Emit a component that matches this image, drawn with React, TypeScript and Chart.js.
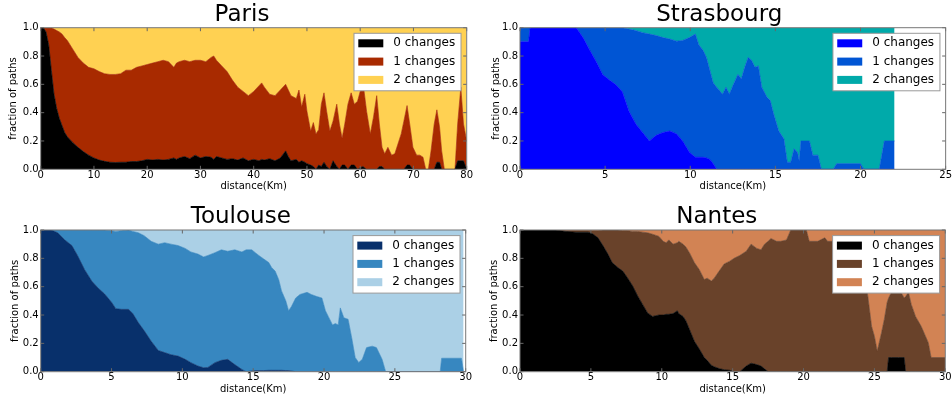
import React, { useEffect, useRef } from "react";
import { Chart, registerables } from "chart.js";

Chart.register(...registerables);

const FONT = "'DejaVu Sans', 'Liberation Sans', sans-serif";
Chart.defaults.font.family = FONT;
Chart.defaults.color = "#000";

const SERIES_LABELS = ["0 changes", "1 changes", "2 changes"];
const X_LABEL = "distance(Km)";
const Y_LABEL = "fraction of paths";

// ---------------- Paris ----------------
const parisX = [0, 0.5, 1, 1.5, 2, 2.5, 3, 3.5, 4, 4.5, 5, 6, 7, 8, 9, 10, 11, 12, 13, 14, 15, 16, 17, 18, 19, 20, 21, 22, 23, 24, 25, 25.5, 26, 27, 28, 29, 30, 31, 32, 32.5, 33, 34, 35, 36, 37, 38, 39, 40, 41, 41.5, 42, 43, 44, 45, 46, 46.5, 47, 48, 48.5, 49, 49.6, 50, 50.7, 51.2, 51.7, 52.2, 52.7, 53.2, 53.7, 54.3, 54.9, 55.6, 56.1, 56.6, 57.1, 57.7, 58.3, 58.9, 59.5, 60.5, 61.2, 61.9, 62.5, 63.1, 63.6, 64.1, 64.6, 65.2, 65.9, 66.5, 67.1, 67.7, 68.2, 68.8, 69.3, 69.9, 70.6, 71.2, 71.8, 72.3, 72.8, 73.3, 73.9, 74.4, 74.9, 75.3, 75.8, 77.8, 78.3, 78.9, 79.4, 80];
const parisZero = [1, 1, 0.97, 0.88, 0.7, 0.53, 0.43, 0.36, 0.31, 0.26, 0.23, 0.19, 0.155, 0.125, 0.1, 0.08, 0.065, 0.056, 0.05, 0.048, 0.05, 0.05, 0.055, 0.055, 0.06, 0.07, 0.065, 0.07, 0.065, 0.07, 0.08, 0.07, 0.08, 0.09, 0.075, 0.1, 0.08, 0.09, 0.085, 0.07, 0.09, 0.08, 0.07, 0.075, 0.065, 0.08, 0.06, 0.07, 0.06, 0.07, 0.065, 0.075, 0.06, 0.08, 0.13, 0.09, 0.06, 0.07, 0.05, 0.06, 0.05, 0.04, 0.03, 0.02, 0, 0.03, 0.02, 0.05, 0.02, 0, 0.06, 0.02, 0, 0.03, 0.03, 0, 0.03, 0.03, 0, 0.02, 0, 0, 0, 0, 0.02, 0.02, 0, 0, 0, 0, 0, 0, 0, 0.03, 0.03, 0, 0, 0, 0, 0, 0, 0, 0, 0.05, 0.05, 0, 0, 0, 0.06, 0.06, 0.06, 0];
const parisOne = [0, 0, 0.03, 0.12, 0.3, 0.46, 0.55, 0.61, 0.645, 0.67, 0.68, 0.66, 0.635, 0.625, 0.62, 0.63, 0.625, 0.619, 0.62, 0.622, 0.625, 0.65, 0.645, 0.665, 0.67, 0.67, 0.685, 0.69, 0.705, 0.69, 0.64, 0.68, 0.68, 0.68, 0.685, 0.67, 0.69, 0.67, 0.705, 0.73, 0.68, 0.65, 0.62, 0.555, 0.515, 0.47, 0.46, 0.48, 0.53, 0.54, 0.515, 0.455, 0.46, 0.48, 0.47, 0.47, 0.46, 0.43, 0.51, 0.38, 0.48, 0.37, 0.24, 0.31, 0.25, 0.25, 0.44, 0.49, 0.39, 0.27, 0.28, 0.44, 0.32, 0.19, 0.29, 0.46, 0.51, 0.43, 0.48, 0.6, 0.41, 0.25, 0.37, 0.52, 0.3, 0.135, 0.11, 0.155, 0.1, 0.11, 0.18, 0.25, 0.34, 0.42, 0.29, 0.155, 0.1, 0.1, 0.085, 0, 0, 0.13, 0.32, 0.37, 0.25, 0.13, 0, 0, 0.26, 0.52, 0.26, 0.2];
const parisTwo = [0, 0, 0, 0, 0, 0.01, 0.02, 0.03, 0.045, 0.07, 0.09, 0.15, 0.21, 0.25, 0.28, 0.29, 0.31, 0.325, 0.33, 0.33, 0.325, 0.3, 0.3, 0.28, 0.27, 0.26, 0.25, 0.24, 0.23, 0.24, 0.28, 0.25, 0.24, 0.23, 0.24, 0.23, 0.23, 0.24, 0.21, 0.2, 0.23, 0.27, 0.31, 0.37, 0.42, 0.45, 0.48, 0.45, 0.41, 0.39, 0.42, 0.47, 0.48, 0.44, 0.4, 0.44, 0.48, 0.5, 0.44, 0.56, 0.47, 0.59, 0.73, 0.67, 0.75, 0.72, 0.54, 0.46, 0.59, 0.73, 0.66, 0.54, 0.68, 0.78, 0.68, 0.54, 0.46, 0.54, 0.52, 0.38, 0.59, 0.75, 0.63, 0.48, 0.68, 0.845, 0.89, 0.845, 0.9, 0.89, 0.82, 0.75, 0.66, 0.55, 0.68, 0.845, 0.9, 0.9, 0.915, 1, 1, 0.87, 0.68, 0.58, 0.7, 0.87, 1, 1, 0.68, 0.42, 0.68, 0.8];

// ---------------- Strasbourg ----------------
const strasX = [0, 0.5, 0.6, 3.3, 3.7, 4.1, 4.5, 4.85, 5.25, 5.6, 6.0, 6.4, 6.8, 7.2, 7.6, 8.0, 8.4, 8.8, 9.2, 9.55, 9.95, 10.3, 10.5, 10.75, 10.95, 11.15, 11.35, 11.55, 11.9, 12.1, 12.3, 12.5, 12.8, 13.0, 13.2, 13.4, 13.6, 13.8, 14.0, 14.2, 14.5, 14.7, 14.9, 15.2, 15.5, 15.7, 15.9, 16.1, 16.3, 16.4, 16.5, 17.0, 17.2, 17.5, 17.7, 18.4, 18.6, 20.0, 20.2, 21.1, 21.4, 22.0];
const strasZero = [0.9, 0.9, 1, 1, 0.93, 0.84, 0.755, 0.67, 0.63, 0.6, 0.55, 0.41, 0.32, 0.26, 0.2, 0.24, 0.26, 0.27, 0.25, 0.2, 0.12, 0.085, 0.085, 0.085, 0.08, 0.07, 0.04, 0, 0, 0, 0, 0, 0, 0, 0, 0, 0, 0, 0, 0, 0, 0, 0, 0, 0, 0, 0, 0, 0, 0, 0, 0, 0, 0, 0, 0, 0, 0, 0, 0, 0, 0];
const strasOne = [0.1, 0.1, 0, 0, 0.07, 0.16, 0.245, 0.33, 0.37, 0.4, 0.45, 0.58, 0.66, 0.705, 0.755, 0.705, 0.67, 0.65, 0.655, 0.71, 0.81, 0.87, 0.795, 0.755, 0.71, 0.63, 0.57, 0.58, 0.53, 0.58, 0.53, 0.59, 0.67, 0.64, 0.72, 0.79, 0.77, 0.72, 0.73, 0.58, 0.51, 0.485, 0.39, 0.27, 0.215, 0.05, 0.05, 0.145, 0.12, 0.06, 0.2, 0.2, 0.1, 0.1, 0, 0, 0.04, 0.04, 0, 0, 0.2, 0.2];
const strasTwo = [0, 0, 0, 0, 0, 0, 0, 0, 0, 0, 0, 0.01, 0.02, 0.035, 0.045, 0.055, 0.07, 0.08, 0.095, 0.09, 0.07, 0.045, 0.12, 0.16, 0.21, 0.3, 0.39, 0.42, 0.47, 0.42, 0.47, 0.41, 0.33, 0.36, 0.28, 0.21, 0.23, 0.28, 0.27, 0.42, 0.49, 0.515, 0.61, 0.73, 0.785, 0.95, 0.95, 0.855, 0.88, 0.94, 0.8, 0.8, 0.9, 0.9, 1, 1, 0.96, 0.96, 1, 1, 0.8, 0.8];

// ---------------- Toulouse ----------------
const toulX = [0, 0.75, 1.2, 1.7, 2.2, 2.6, 3.1, 3.6, 4.05, 4.5, 5.0, 5.3, 5.7, 6.2, 6.5, 6.9, 7.3, 7.8, 8.3, 8.75, 9.2, 9.7, 10.2, 10.6, 11.1, 11.5, 11.8, 12.3, 12.75, 13.2, 13.7, 14.2, 14.5, 14.9, 15.15, 15.4, 15.75, 16.1, 16.3, 16.55, 16.8, 17.0, 17.3, 17.5, 17.7, 18.0, 18.3, 18.8, 19.1, 19.5, 19.85, 20.1, 20.3, 20.6, 20.8, 21.0, 21.15, 21.4, 21.7, 21.97, 22.2, 22.45, 22.7, 23.0, 23.4, 23.7, 24.1, 24.35, 28.2, 28.3, 29.7, 29.85];
const toulZero = [1, 1, 0.98, 0.93, 0.89, 0.82, 0.72, 0.64, 0.59, 0.55, 0.49, 0.445, 0.44, 0.44, 0.41, 0.345, 0.29, 0.215, 0.15, 0.135, 0.12, 0.11, 0.087, 0.064, 0.04, 0.028, 0.03, 0.064, 0.08, 0.087, 0.05, 0.016, 0, 0.005, 0.008, 0.008, 0.008, 0.01, 0.01, 0.01, 0.01, 0.01, 0.008, 0.008, 0.005, 0, 0, 0, 0, 0, 0, 0, 0, 0, 0, 0, 0, 0, 0, 0, 0, 0, 0, 0, 0, 0, 0, 0, 0, 0, 0, 0];
const toulOne = [0, 0, 0.02, 0.07, 0.11, 0.18, 0.28, 0.36, 0.41, 0.45, 0.505, 0.545, 0.555, 0.56, 0.58, 0.635, 0.67, 0.705, 0.75, 0.775, 0.78, 0.78, 0.783, 0.781, 0.79, 0.782, 0.79, 0.776, 0.78, 0.763, 0.81, 0.829, 0.86, 0.855, 0.832, 0.812, 0.787, 0.76, 0.725, 0.7, 0.64, 0.56, 0.492, 0.422, 0.455, 0.52, 0.545, 0.56, 0.545, 0.53, 0.52, 0.43, 0.39, 0.33, 0.34, 0.33, 0.45, 0.38, 0.37, 0.23, 0.1, 0.065, 0.087, 0.17, 0.18, 0.17, 0.087, 0, 0, 0.095, 0.095, 0];
const toulTwo = [0, 0, 0, 0, 0, 0, 0, 0, 0, 0, 0.005, 0.01, 0.005, 0, 0.01, 0.02, 0.04, 0.08, 0.1, 0.09, 0.1, 0.11, 0.13, 0.155, 0.17, 0.19, 0.18, 0.16, 0.14, 0.15, 0.14, 0.155, 0.14, 0.14, 0.16, 0.18, 0.205, 0.23, 0.265, 0.29, 0.35, 0.43, 0.5, 0.57, 0.54, 0.48, 0.455, 0.44, 0.455, 0.47, 0.48, 0.57, 0.61, 0.67, 0.66, 0.67, 0.55, 0.62, 0.63, 0.77, 0.9, 0.935, 0.913, 0.83, 0.82, 0.83, 0.913, 1, 1, 0.905, 0.905, 1];

// ---------------- Nantes ----------------
const nantesX = [0, 2.5, 3.25, 3.95, 4.8, 5.1, 5.5, 5.85, 6.2, 6.5, 6.9, 7.25, 7.6, 7.95, 8.3, 8.65, 9.0, 9.35, 9.8, 10.1, 10.3, 10.5, 10.8, 11.1, 11.2, 11.5, 11.7, 11.95, 12.3, 12.65, 13.0, 13.2, 13.5, 13.7, 14.05, 14.4, 14.8, 15.1, 15.5, 15.96, 16.3, 16.7, 17.0, 17.25, 17.5, 17.7, 18.1, 18.4, 18.8, 19.1, 20.2, 20.4, 21.0, 21.5, 21.7, 22.2, 23.0, 23.8, 24.5, 24.8, 25.0, 25.2, 25.5, 25.7, 25.9, 26.0, 26.2, 26.7, 27.1, 27.2, 27.4, 27.6, 27.9, 28.3, 28.8, 29.0, 30];
const nantesZero = [1, 1, 0.99, 0.985, 0.985, 0.975, 0.945, 0.89, 0.83, 0.77, 0.735, 0.71, 0.66, 0.605, 0.535, 0.475, 0.415, 0.39, 0.4, 0.4, 0.405, 0.405, 0.41, 0.43, 0.41, 0.39, 0.36, 0.3, 0.215, 0.16, 0.1, 0.08, 0.045, 0.035, 0.022, 0.014, 0.01, 0, 0, 0.04, 0.06, 0.05, 0.04, 0.02, 0, 0, 0, 0, 0, 0, 0, 0, 0, 0, 0, 0, 0, 0, 0, 0, 0, 0, 0, 0, 0, 0.1, 0.1, 0.1, 0.1, 0, 0, 0, 0, 0, 0, 0, 0];
const nantesOne = [0, 0, 0.005, 0.01, 0.01, 0.02, 0.05, 0.11, 0.17, 0.23, 0.265, 0.285, 0.335, 0.385, 0.455, 0.51, 0.565, 0.58, 0.555, 0.52, 0.505, 0.525, 0.49, 0.48, 0.51, 0.51, 0.52, 0.54, 0.555, 0.56, 0.55, 0.58, 0.595, 0.625, 0.688, 0.746, 0.77, 0.8, 0.82, 0.81, 0.84, 0.82, 0.82, 0.88, 0.92, 0.94, 0.92, 0.92, 0.93, 1, 1, 0.92, 0.92, 0.945, 0.92, 0.92, 0.86, 0.75, 0.56, 0.32, 0.25, 0.145, 0.275, 0.37, 0.49, 0.42, 0.46, 0.49, 0.42, 0.53, 0.56, 0.475, 0.39, 0.32, 0.205, 0.1, 0.1];
const nantesTwo = [0, 0, 0.005, 0.005, 0.005, 0.005, 0.005, 0, 0, 0, 0, 0.005, 0.005, 0.01, 0.01, 0.015, 0.02, 0.03, 0.045, 0.08, 0.09, 0.07, 0.1, 0.09, 0.08, 0.1, 0.12, 0.16, 0.23, 0.28, 0.35, 0.34, 0.36, 0.34, 0.29, 0.24, 0.22, 0.2, 0.18, 0.15, 0.1, 0.13, 0.14, 0.1, 0.08, 0.06, 0.08, 0.08, 0.07, 0, 0, 0.08, 0.08, 0.055, 0.08, 0.08, 0.14, 0.25, 0.44, 0.68, 0.75, 0.855, 0.725, 0.63, 0.51, 0.48, 0.44, 0.41, 0.48, 0.47, 0.44, 0.525, 0.61, 0.68, 0.795, 0.9, 0.9];

type Box = { left: number; top: number; width: number; height: number };
type Area = { left: number; right: number; top: number; bottom: number };
type Panel = {
  title: string;
  xs: number[];
  series: number[][];
  colors: string[];
  xMax: number;
  xStep: number;
  box: Box;
  area: Area;
  titleCenter: number;
  yTitleX: number;
  xTitleY: number;
};

const PANELS: Panel[] = [
  {
    title: "Paris",
    xs: parisX,
    series: [parisZero, parisOne, parisTwo],
    colors: ["#000000", "#a82a00", "#ffd152"],
    xMax: 80,
    xStep: 10,
    box: { left: 0, top: 0, width: 476, height: 200 },
    area: { left: 40.7, right: 466.7, top: 27.7, bottom: 169.3 },
    titleCenter: 242,
    yTitleX: 13.3,
    xTitleY: 186.7,
  },
  {
    title: "Strasbourg",
    xs: strasX,
    series: [strasZero, strasOne, strasTwo],
    colors: ["#0000ff", "#0055d4", "#00aaaa"],
    xMax: 25,
    xStep: 5,
    box: { left: 476, top: 0, width: 476, height: 200 },
    area: { left: 44, right: 470, top: 27.7, bottom: 169.3 },
    titleCenter: 243.3,
    yTitleX: 20,
    xTitleY: 186.7,
  },
  {
    title: "Toulouse",
    xs: toulX,
    series: [toulZero, toulOne, toulTwo],
    colors: ["#08306b", "#3787c0", "#abd0e6"],
    xMax: 30,
    xStep: 5,
    box: { left: 0, top: 202, width: 476, height: 198 },
    area: { left: 40.7, right: 465.7, top: 28, bottom: 169.7 },
    titleCenter: 240.8,
    yTitleX: 15,
    xTitleY: 187.5,
  },
  {
    title: "Nantes",
    xs: nantesX,
    series: [nantesZero, nantesOne, nantesTwo],
    colors: ["#000000", "#69422a", "#d28354"],
    xMax: 30,
    xStep: 5,
    box: { left: 476, top: 202, width: 476, height: 198 },
    area: { left: 44, right: 469.3, top: 28, bottom: 169.7 },
    titleCenter: 240.8,
    yTitleX: 18.3,
    xTitleY: 187.5,
  },
];

const framePlugin = {
  id: "frameTicks",
  afterDatasetsDraw(chart: any) {
    const { ctx, chartArea: a, scales } = chart;
    const xs = scales.x;
    const ys = scales.y;
    ctx.save();
    ctx.strokeStyle = "#666";
    ctx.lineWidth = 1;
    ctx.beginPath();
    xs.ticks.forEach((t: any) => {
      const px = xs.getPixelForValue(t.value);
      ctx.moveTo(px, a.bottom);
      ctx.lineTo(px, a.bottom - 3.5);
      ctx.moveTo(px, a.top);
      ctx.lineTo(px, a.top + 3.5);
    });
    ys.ticks.forEach((t: any) => {
      const py = ys.getPixelForValue(t.value);
      ctx.moveTo(a.left, py);
      ctx.lineTo(a.left + 3.5, py);
      ctx.moveTo(a.right, py);
      ctx.lineTo(a.right - 3.5, py);
    });
    ctx.stroke();
    ctx.strokeStyle = "#777";
    ctx.strokeRect(a.left, a.top, a.right - a.left, a.bottom - a.top);
    ctx.restore();
  },
};

const legendPlugin = {
  id: "boxLegend",
  afterDraw(chart: any) {
    const { ctx, chartArea: a } = chart;
    const w = 107;
    const h = 57.5;
    const bx = a.right - 5.7 - w;
    const by = a.top + 5.6;
    ctx.save();
    ctx.fillStyle = "#ffffff";
    ctx.fillRect(bx, by, w, h);
    ctx.strokeStyle = "#999";
    ctx.lineWidth = 1;
    ctx.strokeRect(bx, by, w, h);
    ctx.font = `12px ${FONT}`;
    ctx.textBaseline = "middle";
    ctx.textAlign = "left";
    chart.data.datasets.forEach((ds: any, i: number) => {
      const cy = by + 10 + i * 18.3;
      ctx.fillStyle = ds.backgroundColor;
      ctx.fillRect(bx + 4.3, cy - 4, 25, 8);
      ctx.fillStyle = "#000";
      ctx.fillText(ds.label, bx + 39.3, cy);
    });
    ctx.restore();
  },
};

function PanelChart({ panel }: { panel: Panel }) {
  const ref = useRef<HTMLCanvasElement>(null);
  useEffect(() => {
    const canvas = ref.current;
    if (!canvas) return;
    const { box, area } = panel;
    const padL = 2 * panel.titleCenter - area.right;
    const padR = box.width - area.right;
    const yAxisW = area.left - padL;
    const yTitlePad = panel.yTitleX - padL - 6;
    const titleSize = 23;
    const titleLH = 1.1;
    const titlePadTop = area.top - titleSize * titleLH;
    const xScaleBottom = panel.xTitleY + 6;
    const padB = box.height - xScaleBottom;
    const xAxisH = xScaleBottom - area.bottom;

    const chart = new Chart(canvas, {
      type: "line",
      data: {
        datasets: panel.series.map((vals, i) => ({
          label: SERIES_LABELS[i],
          data: panel.xs.map((x, j) => ({ x, y: vals[j] })),
          backgroundColor: panel.colors[i],
          borderColor: panel.colors[i],
          borderWidth: 0.6,
          pointRadius: 0,
          pointHoverRadius: 0,
          tension: 0,
          fill: i === 0 ? "origin" : "-1",
        })),
      },
      options: {
        responsive: false,
        animation: false,
        events: [],
        layout: { padding: { left: padL, right: padR, top: 0, bottom: padB } },
        scales: {
          x: {
            type: "linear",
            min: 0,
            max: panel.xMax,
            grid: { display: false, drawTicks: false },
            border: { display: false },
            ticks: {
              stepSize: panel.xStep,
              autoSkip: false,
              maxRotation: 0,
              padding: 0,
              color: "#000",
              font: { size: 10 },
              callback: (v: any) => String(v),
            },
            title: {
              display: true,
              text: X_LABEL,
              color: "#000",
              font: { size: 10 },
              padding: { top: 0, bottom: 0 },
            },
            afterFit: (s: any) => {
              s.height = xAxisH;
            },
          },
          y: {
            stacked: true,
            min: 0,
            max: 1,
            grid: { display: false, drawTicks: false },
            border: { display: false },
            ticks: {
              stepSize: 0.2,
              padding: 2,
              color: "#000",
              font: { size: 10 },
              callback: (v: any) => Number(v).toFixed(1),
            },
            title: {
              display: true,
              text: Y_LABEL,
              color: "#000",
              font: { size: 10 },
              padding: { top: yTitlePad, bottom: 0 },
            },
            afterFit: (s: any) => {
              s.width = yAxisW;
            },
          },
        },
        plugins: {
          legend: { display: false },
          tooltip: { enabled: false },
          title: {
            display: true,
            text: panel.title,
            color: "#000",
            font: { size: titleSize, weight: "normal", lineHeight: titleLH },
            padding: { top: titlePadTop, bottom: 0 },
          },
        },
      } as any,
      plugins: [framePlugin, legendPlugin],
    });
    return () => chart.destroy();
  }, [panel]);

  return (
    <canvas
      ref={ref}
      width={panel.box.width}
      height={panel.box.height}
      style={{
        position: "absolute",
        left: panel.box.left,
        top: panel.box.top,
        width: panel.box.width,
        height: panel.box.height,
      }}
    />
  );
}

export default function App() {
  return (
    <div
      style={{
        position: "absolute",
        left: 0,
        top: 0,
        width: 952,
        height: 400,
        background: "#ffffff",
        overflow: "hidden",
      }}
    >
      {PANELS.map((p) => (
        <PanelChart key={p.title} panel={p} />
      ))}
    </div>
  );
}
